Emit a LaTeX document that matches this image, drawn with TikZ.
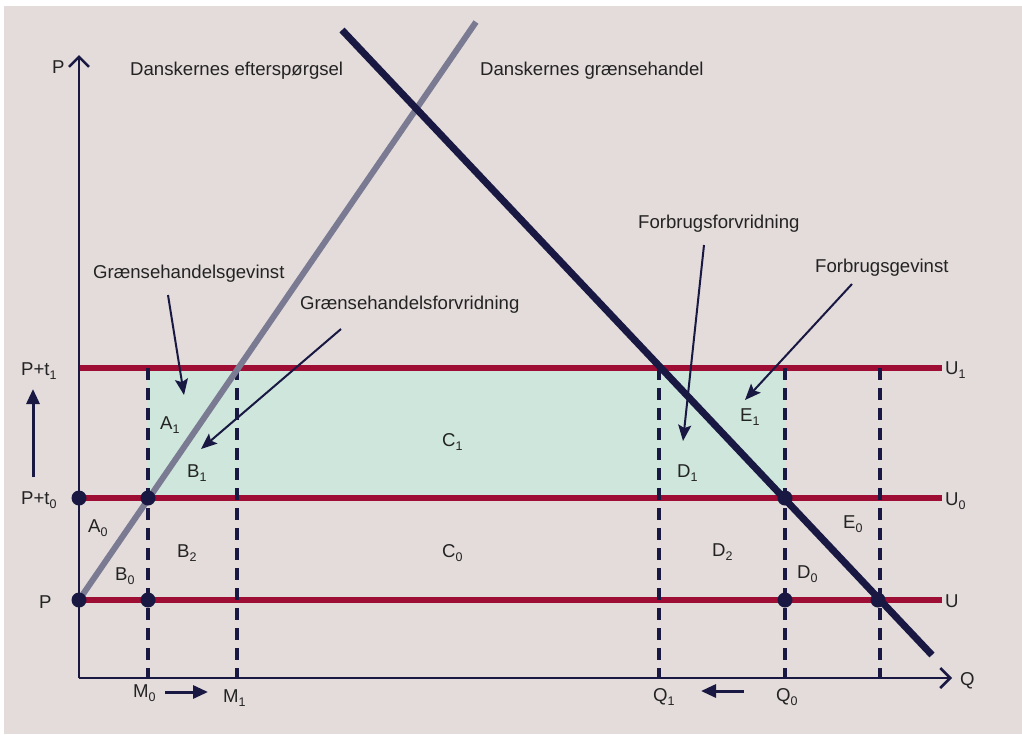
\documentclass[tikz,border=0pt]{standalone}
\usepackage{fontspec}
\setmainfont{Liberation Sans}
\usetikzlibrary{arrows.meta}
\definecolor{bg}{RGB}{227,220,219}
\definecolor{navy}{RGB}{24,24,66}
\definecolor{crim}{RGB}{158,14,52}
\definecolor{mint}{RGB}{206,230,220}
\definecolor{supp}{RGB}{122,122,146}
\definecolor{txtc}{RGB}{35,35,35}
\newcommand\lsb[1]{\raisebox{-4pt}{\fontsize{12.5}{12.5}\selectfont #1}}
\tikzset{
  txt/.style={font=\fontsize{18.6}{22}\selectfont, text=txtc, inner sep=0pt, text height=13.3pt, text depth=0pt, anchor=west},
  redline/.style={draw=crim, line width=6pt},
  dashv/.style={draw=navy, line width=3.5pt, dash pattern=on 12pt off 8pt},
  dot/.style={circle, fill=navy, minimum size=15pt, inner sep=0pt},
  axisline/.style={draw=navy, line width=2.5pt, -{Straight Barb[length=10pt,width=20pt]}},
  note/.style={draw=navy, line width=2pt, -{Stealth[length=16pt,width=13pt,inset=3pt]}},
  shiftarrow/.style={draw=navy, line width=3pt, -{Triangle[length=15pt,width=13pt]}},
}
\begin{document}
\begin{tikzpicture}[x=1pt,y=-1pt]
\useasboundingbox (0,0) rectangle (1022,734);
\fill[white] (0,0) rectangle (1022,734);
\fill[bg] (4,6) rectangle (1022,734);

% green region
\fill[mint] (148,368) rectangle (785,498);

% coordinates
\coordinate (O) at (79,678);
\coordinate (Ptop) at (79,55);
\coordinate (Qend) at (952,678);
\coordinate (u1a) at (79,368); \coordinate (u1b) at (942,368);
\coordinate (u0a) at (79,498); \coordinate (u0b) at (942,498);
\coordinate (ua) at (79,600);  \coordinate (ub) at (942,600);
\coordinate (m0t) at (148,368); \coordinate (m0b) at (148,678);
\coordinate (m1t) at (237,368); \coordinate (m1b) at (237,678);
\coordinate (q1t) at (659,368); \coordinate (q1b) at (659,678);
\coordinate (q0t) at (785,368); \coordinate (q0b) at (785,678);
\coordinate (q2t) at (880,368); \coordinate (q2b) at (880,678);
\coordinate (sA) at (79,600); \coordinate (sB) at (476,22);
\coordinate (dA) at (342,30); \coordinate (dB) at (932,655);

% red price lines
\draw[redline] (u1a) -- (u1b);
\draw[redline] (u0a) -- (u0b);
\draw[redline] (ua) -- (ub);

% axes
\draw[axisline] (O) -- (Ptop);
\draw[axisline] (O) -- (Qend);

% dashed verticals
\draw[dashv] (m0t) -- (m0b);
\draw[dashv] (m1t) -- (m1b);
\draw[dashv] (q1t) -- (q1b);
\draw[dashv] (q0t) -- (q0b);
\draw[dashv] (q2t) -- (q2b);

% supply and demand
\draw[draw=supp, line width=6pt] (sA) -- (sB);
\draw[draw=navy, line width=7pt] (dA) -- (dB);

% dots
\node[dot] (d1) at (79,498) {};
\node[dot] (d2) at (79,600) {};
\node[dot] (d3) at (148,498) {};
\node[dot] (d4) at (148,600) {};
\node[dot] (d5) at (785,498) {};
\node[dot] (d6) at (785,600) {};
\node[dot] (d7) at (878,600) {};

% axis labels
\node[txt] (lP) at (52,67) {P};
\node[txt] (lQ) at (960,679) {Q};
\node[txt] (lPt1) at (21,369) {P+t\lsb{1}};
\node[txt] (lPt0) at (21,498) {P+t\lsb{0}};
\node[txt] (lP0) at (39,602) {P};
\node[txt] (lU1) at (945,368) {U\lsb{1}};
\node[txt] (lU0) at (945,499) {U\lsb{0}};
\node[txt] (lU) at (945,601) {U};
\node[txt] (lM0) at (133,691) {M\lsb{0}};
\node[txt] (lM1) at (223,696) {M\lsb{1}};
\node[txt] (lQ1) at (653,695) {Q\lsb{1}};
\node[txt] (lQ0) at (776,695) {Q\lsb{0}};

% curve labels
\node[txt] (lDe) at (130,69) {Danskernes efterspørgsel};
\node[txt] (lDg) at (480,69) {Danskernes grænsehandel};

% area labels
\node[txt] (A0) at (88,526) {A\lsb{0}};
\node[txt] (B0) at (115,574) {B\lsb{0}};
\node[txt] (B2) at (177,551) {B\lsb{2}};
\node[txt] (A1) at (160,423) {A\lsb{1}};
\node[txt] (B1) at (187,471) {B\lsb{1}};
\node[txt] (C1) at (442,440) {C\lsb{1}};
\node[txt] (C0) at (442,551) {C\lsb{0}};
\node[txt] (D1) at (677,471) {D\lsb{1}};
\node[txt] (E1) at (740,415) {E\lsb{1}};
\node[txt] (D2) at (712,550) {D\lsb{2}};
\node[txt] (D0) at (797,572) {D\lsb{0}};
\node[txt] (E0) at (843,522) {E\lsb{0}};

% annotations
\node[txt] (nGg) at (93,272) {Grænsehandelsgevinst};
\node[txt] (nGf) at (300,303) {Grænsehandelsforvridning};
\node[txt] (nFf) at (638,222) {Forbrugsforvridning};
\node[txt] (nFg) at (815,266) {Forbrugsgevinst};
\coordinate (aGg1) at (168,295); \coordinate (aGg2) at (184,395);
\coordinate (aGf1) at (341,329); \coordinate (aGf2) at (201,449);
\coordinate (aFf1) at (704,245); \coordinate (aFf2) at (683,441);
\coordinate (aFg1) at (852,284); \coordinate (aFg2) at (745,400);
\draw[note] (aGg1) -- (aGg2);
\draw[note] (aGf1) -- (aGf2);
\draw[note] (aFf1) -- (aFf2);
\draw[note] (aFg1) -- (aFg2);

% shift arrows
\coordinate (up1) at (33,477); \coordinate (up2) at (33,389);
\coordinate (mr1) at (165,692); \coordinate (mr2) at (208,692);
\coordinate (ql1) at (744,691); \coordinate (ql2) at (701,691);
\draw[shiftarrow] (up1) -- (up2);
\draw[shiftarrow] (mr1) -- (mr2);
\draw[shiftarrow] (ql1) -- (ql2);
\end{tikzpicture}
\end{document}
